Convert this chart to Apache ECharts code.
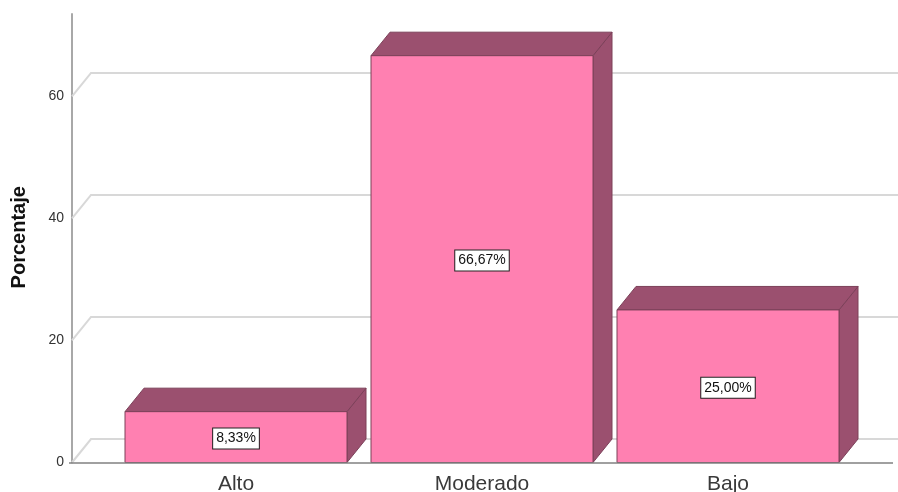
<!DOCTYPE html>
<html><head><meta charset="utf-8">
<style>html,body{margin:0;padding:0;background:#fff}#c{width:898px;height:492px}</style>
<script src="https://cdn.jsdelivr.net/npm/echarts@6/dist/echarts.min.js"></script>
</head><body><div id="c"></div>
<script>
const categories = ['Alto', 'Moderado', 'Bajo'];
const percentages = [8.33, 66.67, 25.00];
const yTicks = [0, 20, 40, 60];
const axisTitle = 'Porcentaje';

const DX = 19, DY = -23.5, BAR_W = 222;
const AXIS_X = 72, RIGHT_X = 893;
const FRONT = '#ff80b1', SHADE = '#9b506f', EDGE = '#7c4059';
const chart = echarts.init(document.getElementById('c'));
const fmt = v => v.toFixed(2).replace('.', ',') + '%';

chart.setOption({
  animation: false,
  backgroundColor: '#fff',
  grid: { left: 113, right: 47, top: 14, bottom: 29.5, containLabel: false, outerBoundsMode: 'none' },
  xAxis: {
    type: 'category', data: categories,
    axisLine: { show: false }, axisTick: { show: false }, splitLine: { show: false },
    axisLabel: { fontFamily: 'Liberation Sans', fontSize: 21, color: '#3a3a3a', margin: 11.5, interval: 0 }
  },
  yAxis: {
    type: 'value', min: 0, max: 73.5, offset: 41,
    axisLine: { show: true, lineStyle: { color: '#a8a8a8', width: 2 } },
    axisTick: { show: false }, splitLine: { show: false },
    axisLabel: { customValues: yTicks, fontFamily: 'Liberation Sans', fontSize: 14, color: '#333', margin: 8, padding: [2, 0, 0, 0] },
    name: axisTitle, nameLocation: 'middle', nameGap: 43,
    nameTextStyle: { fontFamily: 'Liberation Sans', fontWeight: 'bold', fontSize: 20, color: '#111', padding: [0, 0, 0, 2] }
  },
  series: [
    {
      type: 'custom', silent: true, z: 1, data: yTicks,
      encode: { y: 0 },
      renderItem(params, api) {
        const v = api.value(0);
        const y = api.coord([0, v])[1];
        return {
          type: 'polyline', silent: true,
          shape: { points: [[AXIS_X, y], [AXIS_X + DX, y + DY], [898, y + DY]] },
          style: { stroke: '#d8d8d8', lineWidth: 2, fill: null }
        };
      }
    },
    {
      type: 'custom', silent: true, z: 3, data: percentages.map((v, i) => [i, v]),
      encode: { x: 0, y: 1 },
      renderItem(params, api) {
        const i = api.value(0), v = api.value(1);
        const top = api.coord([i, v]), base = api.coord([i, 0]);
        const l = top[0] - BAR_W / 2, r = top[0] + BAR_W / 2, t = top[1], b = base[1];
        const edge = { stroke: EDGE, lineWidth: 1 };
        return {
          type: 'group',
          children: [
            { type: 'polygon', shape: { points: [[r, t], [r + DX, t + DY], [r + DX, b + DY], [r, b]] },
              style: { fill: SHADE, ...edge } },
            { type: 'polygon', shape: { points: [[l, t], [l + DX, t + DY], [r + DX, t + DY], [r, t]] },
              style: { fill: SHADE, ...edge } },
            { type: 'rect', shape: { x: l, y: t, width: BAR_W, height: b - t },
              style: { fill: FRONT, stroke: EDGE, lineWidth: 1 } },
            { type: 'text', z2: 10,
              style: {
                x: top[0], y: (t + b) / 2 + 1.5, text: fmt(v), align: 'center', verticalAlign: 'middle',
                fontFamily: 'Liberation Sans', fontSize: 14, fill: '#111',
                backgroundColor: '#fff', borderColor: '#222', borderWidth: 1, padding: [3, 3, 3, 3]
              } }
          ]
        };
      }
    },
    {
      type: 'custom', silent: true, z: 4, data: [0],
      encode: { y: 0 },
      renderItem(params, api) {
        const y = api.coord([0, api.value(0)])[1] + 0.5;
        return { type: 'line', shape: { x1: AXIS_X - 3, y1: y, x2: RIGHT_X, y2: y },
          style: { stroke: '#808080', lineWidth: 1.5 } };
      }
    }
  ]
});
</script></body></html>
